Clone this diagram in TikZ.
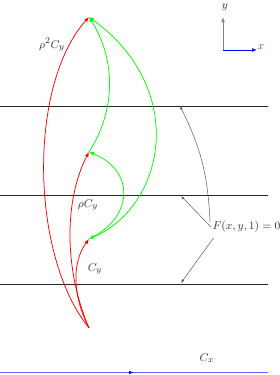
\documentclass[tikz,border=0pt]{standalone}
\usetikzlibrary{arrows.meta,decorations.markings}
\begin{document}
\begin{tikzpicture}[x=0.8pt,y=-0.8pt,
  hline/.style={line width=0.75pt,black!85},
  redc/.style={red,line width=0.6pt,-{Latex[length=4pt,width=3pt]}},
  greenc/.style={green,line width=0.6pt,-{Latex[length=4pt,width=3pt]}},
  pointer/.style={black!65,line width=0.4pt,-{Latex[length=3pt,width=2pt]}},
  lbl/.style={inner sep=1pt,text=black!80,font=\fontsize{9.3}{11}\selectfont}]
\useasboundingbox (0,0) rectangle (279,375);
% horizontal lines
\coordinate (h1a) at (0,106); \coordinate (h1b) at (268,106);
\coordinate (h2a) at (0,195); \coordinate (h2b) at (268,195);
\coordinate (h3a) at (0,284); \coordinate (h3b) at (268,284);
\draw[hline] (h1a) -- (h1b);
\draw[hline] (h2a) -- (h2b);
\draw[hline] (h3a) -- (h3b);
% blue C_x line
\coordinate (bxa) at (0,372.5); \coordinate (bxb) at (268,372.5);
\draw[blue!60,line width=0.9pt,postaction={decorate},
  decoration={markings,mark=at position 0.5 with {\arrow[blue]{Latex[length=4pt,width=3pt]}}}] (bxa) -- (bxb);
% points
\coordinate (B) at (89,328);
\coordinate (T) at (89,17);
\coordinate (M) at (89,152);
\coordinate (L) at (89,239);
% red curves
\draw[redc] (B) .. controls (30,255) and (28,85) .. (T);
\draw[redc] (B) .. controls (64,270) and (64,200) .. (M);
\draw[redc] (B) .. controls (72,295) and (72,262) .. (L);
% green curves
\draw[greenc] (M) .. controls (116,110) and (116,60) .. (T);
\draw[greenc] (L) .. controls (165,210) and (190,90) .. (T);
\draw[greenc,{Latex[length=4pt,width=3pt]}-{Latex[length=4pt,width=3pt]}] (L) .. controls (134,215) and (134,170) .. (M);
% labels
\node[lbl] (r2) at (52,45) {$\rho^2C_y$};
\node[lbl] (r1) at (88,205) {$\rho C_y$};
\node[lbl] (c0) at (95,269) {$C_y$};
\node[lbl] (cx) at (207,358) {$C_x$};
\node[lbl,anchor=west] (F) at (211,227) {$F(x,y,1)=0$};
% pointers
\coordinate (t1) at (180,106);
\coordinate (t2) at (181,196);
\coordinate (t3) at (181,283);
\draw[pointer] (F.north west) ++(-1,2) to[bend right=12] (t1);
\draw[pointer] (F.west) -- (t2);
\draw[pointer] ([xshift=2pt,yshift=-3pt]F.south west) -- (t3);
% axes
\coordinate (O) at (223,50);
\coordinate (Y) at (223,17);
\coordinate (X) at (257,50);
\draw[black!50,line width=0.6pt,-{Latex[length=4pt,width=3pt]}] (O) -- (Y);
\draw[blue,line width=0.5pt,-{Latex[length=4pt,width=3pt]}] (O) -- (X);
\node[lbl] (ylab) at (225,7.5) {$y$};
\node[lbl,text=blue!70] (xlab) at (261,47) {$x$};
\end{tikzpicture}
\end{document}
